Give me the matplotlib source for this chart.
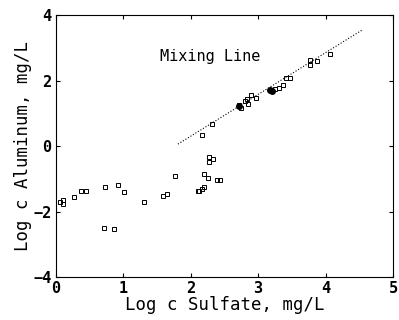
import numpy as np
import matplotlib.pyplot as plt

plt.rcParams['font.family'] = 'DejaVu Sans Mono'

# open squares: log sulfate, log aluminum
sulfate = [0.06, 0.10, 0.10, 0.27, 0.38, 0.45, 0.73, 0.92, 1.01, 0.72, 0.86,
           1.31, 1.59, 1.65, 1.76, 2.11, 2.12, 2.16, 2.19, 2.20, 2.26, 2.27,
           2.27, 2.33, 2.39, 2.44, 2.16, 2.32, 2.71, 2.75, 2.80, 2.83, 2.85,
           2.90, 2.97, 3.25, 3.31, 3.37, 3.42, 3.47, 3.77, 3.77, 3.87, 4.06]
aluminum = [-1.70, -1.64, -1.77, -1.54, -1.36, -1.38, -1.26, -1.19, -1.41,
            -2.50, -2.53, -1.72, -1.52, -1.47, -0.91, -1.36, -1.36, -1.31,
            -1.24, -0.86, -0.98, -0.32, -0.50, -0.40, -1.03, -1.03, 0.35, 0.67,
            1.25, 1.15, 1.38, 1.44, 1.28, 1.56, 1.48, 1.74, 1.76, 1.87, 2.07,
            2.07, 2.64, 2.48, 2.61, 2.81]

# filled points
sulfate_f = [2.71, 3.18, 3.20]
aluminum_f = [1.22, 1.71, 1.68]

# mixing line end points
mix_x = [1.81, 4.54]
mix_y = [0.06, 3.54]

fig = plt.figure(figsize=(3.99, 3.2), dpi=100)
ax = fig.add_axes([0.140, 0.134, 0.845, 0.819])

ax.plot(mix_x, mix_y, linestyle=':', color='black', linewidth=0.8)
ax.plot(sulfate, aluminum, 's', markersize=3.5, markerfacecolor='none',
        markeredgecolor='black', markeredgewidth=0.7)
ax.plot(sulfate_f, aluminum_f, 'o', markersize=4, color='black')

ax.text(1.54, 2.72, 'Mixing Line', fontsize=11, va='center', ha='left')

ax.set_xlim(0, 5)
ax.set_ylim(-4, 4)
ax.set_xticks([0, 1, 2, 3, 4, 5])
ax.set_yticks([-4, -2, 0, 2, 4])
ax.tick_params(direction='in', top=True, right=True, length=3, labelsize=11,
               pad=3)
for lbl in ax.get_xticklabels() + ax.get_yticklabels():
    lbl.set_fontweight('bold')

ax.set_xlabel('Log c Sulfate, mg/L', fontsize=12.5, labelpad=0)
ax.set_ylabel('Log c Aluminum, mg/L', fontsize=12.5, labelpad=1)

for s in ax.spines.values():
    s.set_linewidth(0.8)

fig.savefig('out.png', dpi=100)
